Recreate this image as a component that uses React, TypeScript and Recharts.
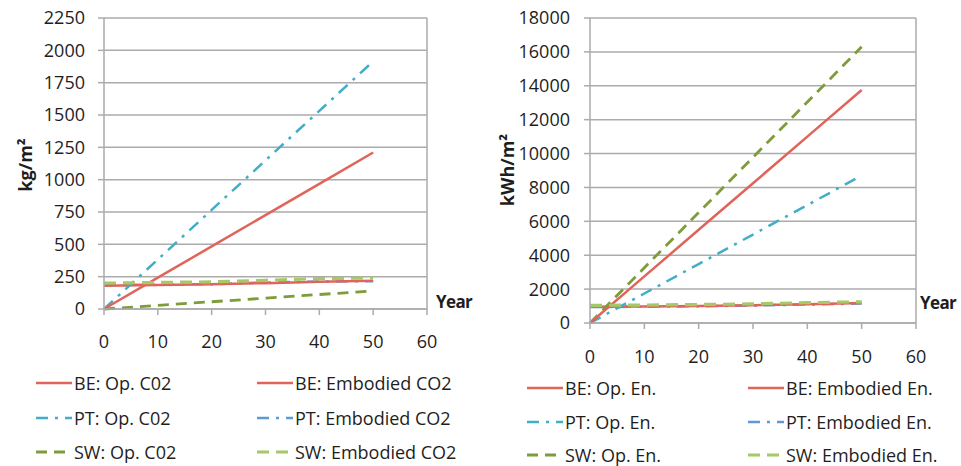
import React from 'react'
import { LineChart, Line, XAxis, YAxis, CartesianGrid, ReferenceLine } from 'recharts'

// years on the x axis
const YEARS = [0, 10, 20, 30, 40, 50]
const X_TICKS = [0, 10, 20, 30, 40, 50, 60]

// left chart: kg/m2
const BE_OP_CO2 = [0, 242, 484, 726, 968, 1210]
const PT_OP_CO2 = [0, 383, 766, 1149, 1532, 1915]
const SW_OP_CO2 = [0, 28, 56, 84, 112, 140]
const BE_EMB_CO2 = [180, 185, 192, 200, 210, 218]
const PT_EMB_CO2 = [185, 188, 192, 205, 212, 215]
const SW_EMB_CO2 = [200, 205, 210, 222, 235, 240]
const CO2_TICKS = [0, 250, 500, 750, 1000, 1250, 1500, 1750, 2000, 2250]

// right chart: kWh/m2
const BE_OP_EN = [0, 2750, 5500, 8250, 11000, 13750]
const PT_OP_EN = [0, 1740, 3480, 5220, 6960, 8700]
const SW_OP_EN = [0, 3260, 6520, 9780, 13040, 16300]
const BE_EMB_EN = [960, 975, 1000, 1050, 1100, 1180]
const PT_EMB_EN = [940, 960, 990, 1030, 1090, 1150]
const SW_EMB_EN = [1040, 1060, 1090, 1130, 1200, 1250]
const EN_TICKS = [0, 2000, 4000, 6000, 8000, 10000, 12000, 14000, 16000, 18000]

const FONT = '"Open Sans", sans-serif'
const GRID = '#ababab'
const TEXT = '#1e1e1e'

const STYLES = {
  beOp: { stroke: '#e0645a', dash: undefined as string | undefined, width: 2.5 },
  ptOp: { stroke: '#41aec8', dash: '12 7 3 7', width: 2.5 },
  swOp: { stroke: '#7d9c3a', dash: '11 7', width: 2.8 },
  beEmb: { stroke: '#e0645a', dash: undefined as string | undefined, width: 2.5 },
  ptEmb: { stroke: '#5b9bd5', dash: '12 7 3 7', width: 2.5 },
  swEmb: { stroke: '#a6c867', dash: '12 7', width: 3.2 },
}

const co2Series = [
  { key: 'beOp', name: 'BE: Op. C02', values: BE_OP_CO2 },
  { key: 'ptOp', name: 'PT: Op. C02', values: PT_OP_CO2 },
  { key: 'swOp', name: 'SW: Op. C02', values: SW_OP_CO2 },
  { key: 'beEmb', name: 'BE: Embodied CO2', values: BE_EMB_CO2 },
  { key: 'ptEmb', name: 'PT: Embodied CO2', values: PT_EMB_CO2 },
  { key: 'swEmb', name: 'SW: Embodied CO2', values: SW_EMB_CO2 },
]

const enSeries = [
  { key: 'beOp', name: 'BE: Op. En.', values: BE_OP_EN },
  { key: 'ptOp', name: 'PT: Op. En.', values: PT_OP_EN },
  { key: 'swOp', name: 'SW: Op. En.', values: SW_OP_EN },
  { key: 'beEmb', name: 'BE: Embodied En.', values: BE_EMB_EN },
  { key: 'ptEmb', name: 'PT: Embodied En.', values: PT_EMB_EN },
  { key: 'swEmb', name: 'SW: Embodied En.', values: SW_EMB_EN },
]

// draw order: embodied first, operational lines on top except green embodied
const DRAW_ORDER = ['ptEmb', 'beEmb', 'swOp', 'ptOp', 'beOp', 'swEmb']

function buildRows(series: typeof co2Series) {
  return YEARS.map((year, i) => {
    const row: any = { year }
    series.forEach(s => { row[s.key] = s.values[i] })
    return row
  })
}

function LegendSample({ k }: { k: string }) {
  const st = (STYLES as any)[k]
  return (
    <svg width={36} height={10} style={{ display: 'block' }}>
      <line x1={0} y1={5} x2={36} y2={5} stroke={st.stroke} strokeWidth={st.width} strokeDasharray={st.dash} />
    </svg>
  )
}

function LegendBlock({ series, left, top, col2, rowGap }: any) {
  return (
    <>
      {series.map((s: any, i: number) => {
        const col = i < 3 ? 0 : 1
        const row = i % 3
        return (
          <div
            key={s.key}
            style={{
              position: 'absolute',
              left: col === 0 ? left : col2,
              top: top + row * rowGap - 11,
              height: 22,
              lineHeight: '22px',
              display: 'flex',
              alignItems: 'center',
              gap: 2,
              fontFamily: FONT,
              fontSize: 18,
              color: TEXT,
              whiteSpace: 'nowrap',
            }}
          >
            <LegendSample k={s.key} />
            <span>{s.name}</span>
          </div>
        )
      })}
    </>
  )
}

function Chart({ series, ticks, max, width, yWidth, marginRight, plotBottom, yTickMargin, xTickMargin }: any) {
  const data = buildRows(series)
  const axisTick = { fill: TEXT, fontSize: 18, fontFamily: FONT }
  return (
    <LineChart
      width={width}
      height={466}
      data={data}
      margin={{ top: 18, right: marginRight, left: 0, bottom: 466 - plotBottom - 40 }}
    >
      <CartesianGrid vertical={false} stroke={GRID} strokeWidth={1.5} />
      <XAxis
        dataKey="year"
        type="number"
        domain={[0, 60]}
        ticks={X_TICKS}
        height={40}
        stroke={GRID}
        strokeWidth={1.5}
        tick={axisTick}
        tickSize={6}
        tickMargin={xTickMargin}
      />
      <YAxis
        type="number"
        domain={[0, max]}
        ticks={ticks}
        width={yWidth}
        stroke={GRID}
        strokeWidth={1.5}
        tick={axisTick}
        tickSize={6}
        tickMargin={yTickMargin}
      />
      <ReferenceLine x={60} stroke={GRID} strokeWidth={1.5} />
      {DRAW_ORDER.map(k => {
        const st = (STYLES as any)[k]
        return (
          <Line
            key={k}
            dataKey={k}
            type="linear"
            stroke={st.stroke}
            strokeWidth={st.width}
            strokeDasharray={st.dash}
            dot={false}
            activeDot={false}
            isAnimationActive={false}
          />
        )
      })}
    </LineChart>
  )
}

const axisTitle: React.CSSProperties = {
  position: 'absolute',
  fontFamily: FONT,
  fontSize: 18,
  fontWeight: 700,
  color: TEXT,
  whiteSpace: 'nowrap',
}

export default function App() {
  return (
    <div style={{ position: 'absolute', left: 0, top: 0, width: 961, height: 466, background: '#fff', overflow: 'hidden' }}>
      <div style={{ position: 'absolute', left: 0, top: 0 }}>
        <Chart
          series={co2Series}
          ticks={CO2_TICKS}
          max={2250}
          width={480}
          yWidth={104}
          marginRight={53}
          plotBottom={309}
          yTickMargin={13}
          xTickMargin={20}
        />
      </div>
      <div style={{ position: 'absolute', left: 480, top: 0 }}>
        <Chart
          series={enSeries}
          ticks={EN_TICKS}
          max={18000}
          width={481}
          yWidth={110}
          marginRight={45}
          plotBottom={323}
          yTickMargin={14}
          xTickMargin={21}
        />
      </div>

      <div style={{ ...axisTitle, left: 25, top: 165, transform: 'translate(-50%, -50%) rotate(-90deg)' }}>kg/m²</div>
      <div style={{ ...axisTitle, left: 507, top: 170, transform: 'translate(-50%, -50%) rotate(-90deg)' }}>kWh/m²</div>
      <div style={{ ...axisTitle, left: 436, top: 290, fontSize: 17, letterSpacing: -0.6 }}>Year</div>
      <div style={{ ...axisTitle, left: 920, top: 291, fontSize: 17, letterSpacing: -0.6 }}>Year</div>

      <LegendBlock series={co2Series} left={36} col2={257} top={383} rowGap={34.5} />
      <LegendBlock series={enSeries} left={527} col2={748} top={388} rowGap={33.5} />
    </div>
  )
}
